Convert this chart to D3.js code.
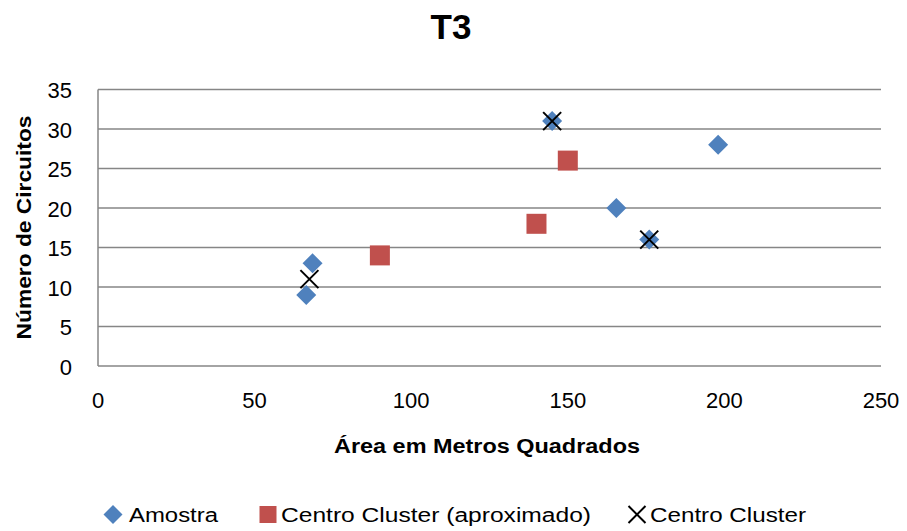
<!DOCTYPE html>
<html><head><meta charset="utf-8">
<script src="https://cdn.jsdelivr.net/npm/d3@7"></script>
<style>body{margin:0;background:#fff}svg{display:block}text{font-family:"Liberation Sans",Arial,sans-serif;fill:#000}</style>
</head><body><svg id="c" width="907" height="531"></svg>
<script>
const amostra = [[66.5,9],[68.5,13],[145,31],[165.5,20],[176,16],[198,28]];
const centroAprox = [[90,14],[140,18],[150,26]];
const centro = [[67.5,11],[145,31],[176,16]];
const xTicks = [0,50,100,150,200,250];
const yTicks = [0,5,10,15,20,25,30,35];
const title = "T3";
const xTitle = "Área em Metros Quadrados";
const yTitle = "Número de Circuitos";
const legendLabels = ["Amostra","Centro Cluster (aproximado)","Centro Cluster"];

const svg = d3.select("#c");
const x = d3.scaleLinear().domain([0,250]).range([98,881]);
const y = d3.scaleLinear().domain([0,35]).range([366,89.5]);
const grid = "#868686";

svg.append("g").selectAll("line").data(yTicks).join("line")
  .attr("x1",x(0)).attr("x2",x(250)).attr("y1",d=>y(d)).attr("y2",d=>y(d))
  .attr("stroke",grid).attr("stroke-width",1.5);
svg.append("line").attr("x1",x(0)).attr("x2",x(0)).attr("y1",y(0)).attr("y2",y(35)).attr("stroke",grid).attr("stroke-width",1.5);

svg.append("g").selectAll("text").data(yTicks).join("text")
  .attr("x",72).attr("y",d=>y(d)+8.5).attr("text-anchor","end").attr("font-size",22).text(d=>d);
svg.append("g").selectAll("text").data(xTicks).join("text")
  .attr("x",d=>x(d)).attr("y",408).attr("text-anchor","middle").attr("font-size",22).text(d=>d);

svg.append("text").attr("x",451).attr("y",38.5).attr("text-anchor","middle").attr("font-size",35).attr("font-weight","bold").text(title);
svg.append("text").attr("x",487).attr("y",453).attr("text-anchor","middle").attr("font-size",20).attr("font-weight","bold")
  .attr("textLength",306).attr("lengthAdjust","spacingAndGlyphs").text(xTitle);
svg.append("text").attr("transform","translate(31,227.5) rotate(-90)").attr("text-anchor","middle").attr("font-size",20).attr("font-weight","bold")
  .attr("textLength",224).attr("lengthAdjust","spacingAndGlyphs").text(yTitle);

const diamond = (g,cx,cy,r)=>g.append("path").attr("d",`M${cx},${cy-r}L${cx+r},${cy}L${cx},${cy+r}L${cx-r},${cy}Z`).attr("fill","#4f81bd");
const square = (g,cx,cy,s)=>g.append("rect").attr("x",cx-s/2).attr("y",cy-s/2).attr("width",s).attr("height",s).attr("fill","#c0504d");
const cross = (g,cx,cy,r)=>g.append("path").attr("d",`M${cx-r},${cy-r}L${cx+r},${cy+r}M${cx-r},${cy+r}L${cx+r},${cy-r}`).attr("stroke","#000").attr("stroke-width",2).attr("fill","none");

const pts = svg.append("g");
pts.selectAll("path.d").data(amostra).join("path").attr("class","d")
  .attr("d",d=>{const cx=x(d[0]),cy=y(d[1]),r=10;return `M${cx},${cy-r}L${cx+r},${cy}L${cx},${cy+r}L${cx-r},${cy}Z`;})
  .attr("fill","#4f81bd");
pts.selectAll("rect").data(centroAprox).join("rect")
  .attr("x",d=>x(d[0])-10).attr("y",d=>y(d[1])-10).attr("width",20).attr("height",20).attr("fill","#c0504d");
pts.selectAll("path.x").data(centro).join("path").attr("class","x")
  .attr("d",d=>{const cx=x(d[0]),cy=y(d[1]),r=9;return `M${cx-r},${cy-r}L${cx+r},${cy+r}M${cx-r},${cy+r}L${cx+r},${cy-r}`;})
  .attr("stroke","#000").attr("stroke-width",2).attr("fill","none");

const lg = svg.append("g");
diamond(lg,113,514.5,9.5);
lg.append("text").attr("x",129).attr("y",522).attr("font-size",20).attr("textLength",89).attr("lengthAdjust","spacingAndGlyphs").text(legendLabels[0]);
square(lg,268,514.5,17);
lg.append("text").attr("x",281).attr("y",522).attr("font-size",20).attr("textLength",310).attr("lengthAdjust","spacingAndGlyphs").text(legendLabels[1]);
cross(lg,637,514.5,8.5);
lg.append("text").attr("x",650).attr("y",522).attr("font-size",20).attr("textLength",156).attr("lengthAdjust","spacingAndGlyphs").text(legendLabels[2]);
</script></body></html>
